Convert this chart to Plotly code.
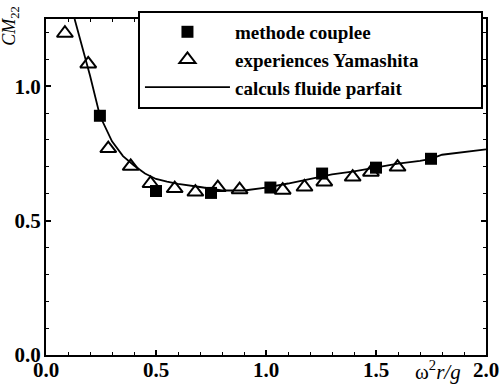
import plotly.graph_objects as go

# methode couplee (filled squares)
coup_x = [0.245, 0.50, 0.75, 1.02, 1.255, 1.50, 1.75]
coup_y = [0.890, 0.610, 0.603, 0.623, 0.675, 0.697, 0.730]

# experiences Yamashita (open triangles)
exp_x = [0.086, 0.192, 0.283, 0.385, 0.475, 0.585, 0.679, 0.781, 0.880,
         1.076, 1.175, 1.265, 1.394, 1.477, 1.598]
exp_y = [1.197, 1.083, 0.768, 0.702, 0.638, 0.619, 0.606, 0.623, 0.615,
         0.613, 0.625, 0.644, 0.662, 0.680, 0.699]

# calculs fluide parfait (line)
calc_x = [0.13, 0.16, 0.20, 0.245, 0.30, 0.35, 0.40, 0.45, 0.50, 0.55, 0.60,
          0.70, 0.80, 0.90, 1.00, 1.10, 1.20, 1.30, 1.40, 1.50, 1.60, 1.70,
          1.75, 1.80, 1.90, 2.00]
calc_y = [1.25, 1.16, 1.04, 0.89, 0.795, 0.74, 0.705, 0.675, 0.655, 0.645,
          0.637, 0.625, 0.612, 0.612, 0.623, 0.638, 0.655, 0.672, 0.683,
          0.697, 0.712, 0.722, 0.730, 0.745, 0.755, 0.765]

x_ticks = [0.0, 0.5, 1.0, 1.5, 2.0]
x_ticklabels = ["0.0", "0.5", "1.0", "1.5", "2.0"]
y_ticks = [0.0, 0.5, 1.0]
y_ticklabels = ["0.0", "0.5", "1.0"]

FONT = "Times New Roman, Liberation Serif, DejaVu Serif, serif"

fig = go.Figure()
fig.add_trace(go.Scatter(
    x=coup_x, y=coup_y, mode="markers", name="<b>methode couplee</b>",
    marker=dict(symbol="square", size=12, color="black"),
))
fig.add_trace(go.Scatter(
    x=exp_x, y=exp_y, mode="markers",
    name="<b>experiences Yamashita</b>" + "&nbsp;" * 12,
    marker=dict(symbol="triangle-up-open", size=14, color="black",
                line=dict(width=2, color="black")),
))
fig.add_trace(go.Scatter(
    x=calc_x, y=calc_y, mode="lines", name="<b>calculs fluide parfait</b>",
    line=dict(color="black", width=1.8),
))

axis_common = dict(
    showline=True, linecolor="black", linewidth=2, mirror="allticks",
    ticks="inside", ticklen=5, tickwidth=1.5, tickcolor="black",
    showgrid=False, zeroline=False,
    tickfont=dict(family=FONT, size=21, color="black", weight="bold"),
)

fig.update_xaxes(range=[0, 2.0], tickvals=x_ticks, ticktext=x_ticklabels,
                 minor=dict(dtick=0.1, ticks="inside", ticklen=3,
                            tickcolor="black", tickwidth=1.2),
                 ticklabelstandoff=-5, **axis_common)
fig.update_yaxes(range=[0, 1.25], tickvals=y_ticks, ticktext=y_ticklabels,
                 minor=dict(dtick=0.1, ticks="inside", ticklen=3,
                            tickcolor="black", tickwidth=1.2),
                 ticklabelstandoff=-1, **axis_common)

fig.update_layout(
    width=504, height=392,
    margin=dict(l=46, r=18, t=19, b=37, autoexpand=False),
    paper_bgcolor="white", plot_bgcolor="white",
    font=dict(family=FONT, color="black"),
    legend=dict(
        x=0.209, y=1.024, xanchor="left", yanchor="top",
        bgcolor="white", bordercolor="black", borderwidth=2,
        font=dict(family=FONT, size=19, color="black"),
        itemwidth=85, tracegroupgap=0,
    ),
    annotations=[
        dict(text="<i>CM</i><sub>22</sub>", xref="paper", yref="paper",
             x=-0.08, y=1.045, xanchor="center", yanchor="top",
             textangle=-90, showarrow=False,
             font=dict(family=FONT, size=18, color="black")),
        dict(text="ω<sup>2</sup><i>r/g</i>", xref="paper", yref="paper",
             x=0.89, y=0.0, xanchor="center", yanchor="top",
             showarrow=False,
             font=dict(family=FONT, size=21, color="black")),
    ],
)

fig.write_html("out.html",
               config={"displayModeBar": False},
               post_script="document.body.style.margin='0';")
